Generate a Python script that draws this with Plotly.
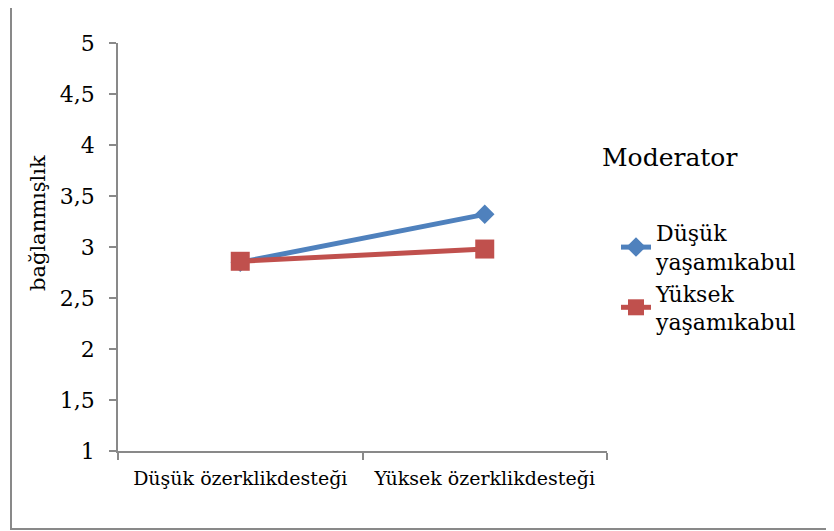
import plotly.graph_objects as go

categories = ["Düşük özerklikdesteği", "Yüksek özerklikdesteği"]
series_names = ["Düşük<br>yaşamıkabul", "Yüksek<br>yaşamıkabul"]
dusuk_values = [2.85, 3.32]
yuksek_values = [2.86, 2.98]
y_ticks = [1, 1.5, 2, 2.5, 3, 3.5, 4, 4.5, 5]

FONT = "DejaVu Serif"
BLUE = "#4F81BD"
RED = "#C0504D"
GREY = "#898989"

fig = go.Figure()
fig.add_trace(go.Scatter(
    x=categories, y=dusuk_values, name=series_names[0], mode="lines+markers",
    line=dict(color=BLUE, width=5),
    marker=dict(symbol="diamond", size=15, color=BLUE),
))
fig.add_trace(go.Scatter(
    x=categories, y=yuksek_values, name=series_names[1], mode="lines+markers",
    line=dict(color=RED, width=5),
    marker=dict(symbol="square", size=19, color=RED),
))

OFF = 8
W, H = 834, 531
L, T = 118 - OFF, 43 - OFF
PR, PB = 607 - OFF, 451 - OFF
R, B = W - PR, H - PB
pw, ph = PR - L, PB - T

def px_x(p):
    return (p - OFF - L) / pw

def px_y(p):
    return (PB - (p - OFF)) / ph

fig.update_layout(
    width=W, height=H,
    margin=dict(l=L, r=R, t=T, b=B, pad=0),
    paper_bgcolor="white", plot_bgcolor="white",
    separators=", ",
    font=dict(family=FONT, size=20, color="black"),
    showlegend=True,
    legend=dict(
        x=px_x(616), y=px_y(212), xanchor="left", yanchor="top",
        font=dict(family=FONT, size=22, color="black"),
        bgcolor="rgba(0,0,0,0)", tracegroupgap=0, itemwidth=30,
    ),
    xaxis=dict(
        type="category", range=[-0.5, 1.5], showgrid=False, zeroline=False,
        showline=True, linecolor=GREY, linewidth=1.5,
        ticks="outside", tickson="boundaries", ticklen=7, tickcolor=GREY, tickwidth=1.5,
        tickfont=dict(family=FONT, size=19, color="black"),
        ticklabelstandoff=9, fixedrange=True,
    ),
    yaxis=dict(
        range=[1, 5], tickvals=y_ticks, showgrid=False, zeroline=False,
        showline=True, linecolor=GREY, linewidth=1.5,
        ticks="outside", ticklen=7, tickcolor=GREY, tickwidth=1.5,
        tickfont=dict(family=FONT, size=22, color="black"),
        ticklabelstandoff=10, fixedrange=True,
    ),
    annotations=[
        dict(text="bağlanmışlık", textangle=-90, xref="paper", yref="paper",
             x=px_x(38), y=px_y(223), xanchor="center", yanchor="middle",
             showarrow=False, font=dict(family=FONT, size=21, color="black")),
        dict(text="Moderator", xref="paper", yref="paper",
             x=px_x(600), y=px_y(157), xanchor="left", yanchor="middle",
             showarrow=False, font=dict(family=FONT, size=25, color="black")),
    ],
    shapes=[
        dict(type="rect", xref="paper", yref="paper",
             x0=px_x(11), x1=px_x(850), y0=px_y(529), y1=px_y(1.5),
             line=dict(color=GREY, width=2), fillcolor="rgba(0,0,0,0)", layer="below"),
    ],
)

fig.write_html("out.html")
